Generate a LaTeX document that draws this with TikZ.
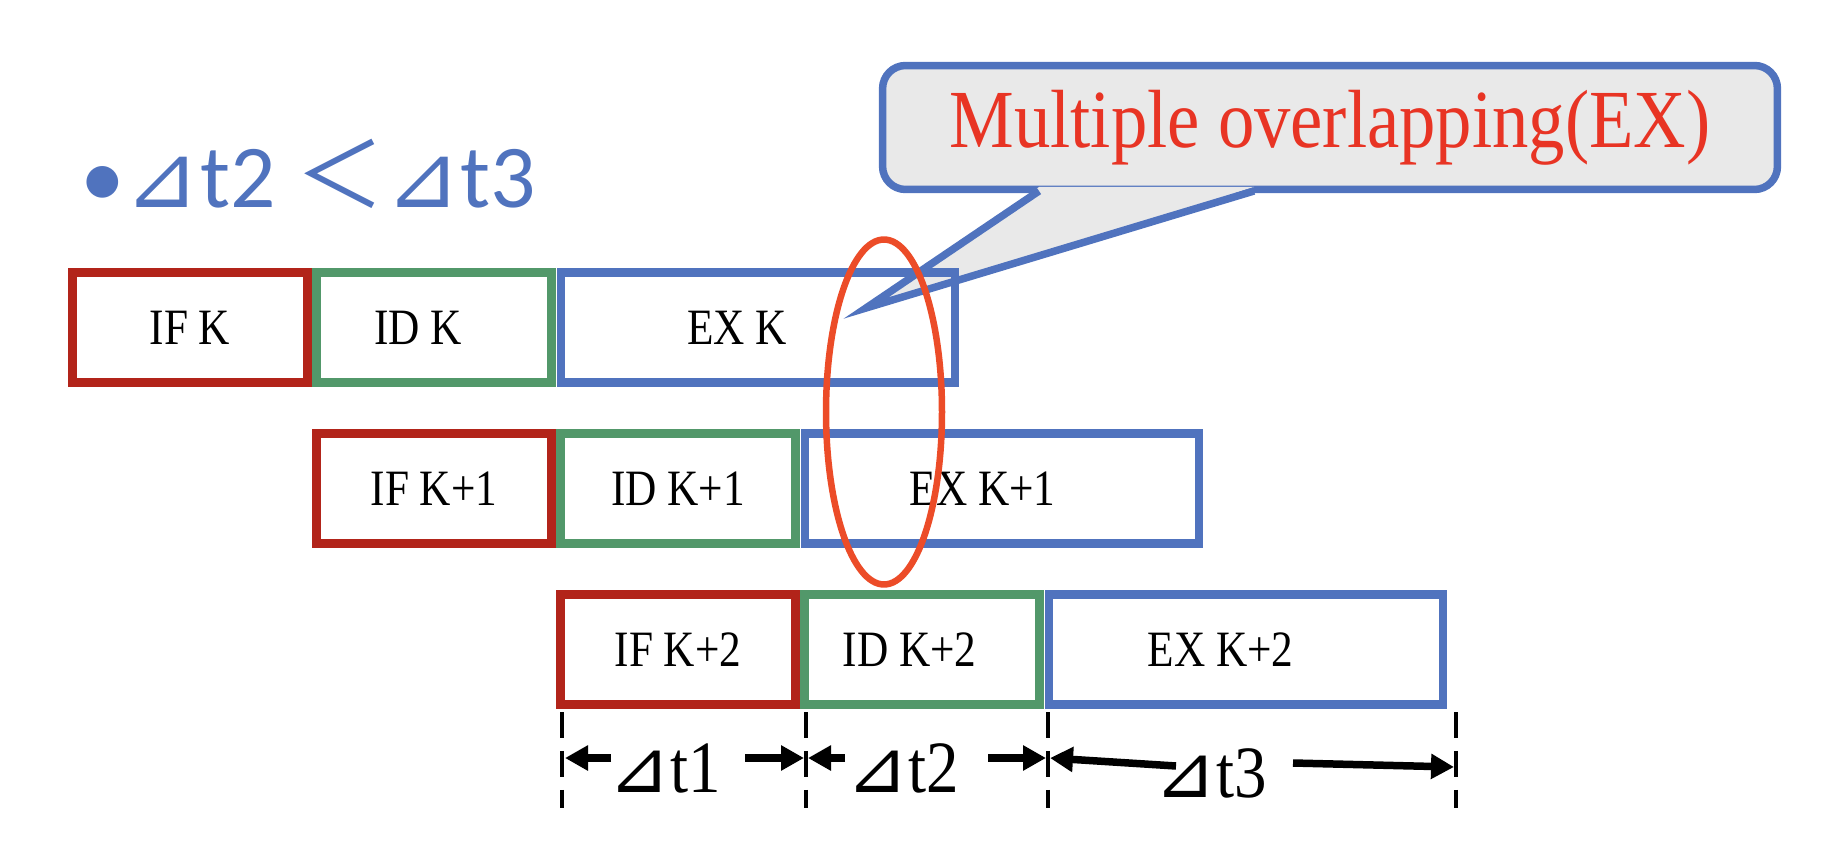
\documentclass[tikz,border=0pt]{standalone}
\usepackage{fontspec}
\setmainfont{Liberation Serif}
\newfontfamily\narrowfont[FakeStretch=0.88]{Liberation Serif}
\newfontfamily\labfont[FakeStretch=0.85]{Liberation Serif}
\newfontfamily\trifont{DejaVu Sans}
\newfontfamily\cjkfont{Noto Sans CJK SC}
\newfontfamily\calfont{Carlito}
\usetikzlibrary{shapes.geometric,arrows.meta}
\definecolor{cred}{RGB}{178,36,26}
\definecolor{cgreen}{RGB}{82,152,106}
\definecolor{cblue}{RGB}{80,115,190}
\definecolor{corange}{RGB}{236,76,40}
\definecolor{ctext}{RGB}{232,52,36}
\definecolor{cgray}{RGB}{233,233,233}
\begin{document}
\begin{tikzpicture}[x=0.02cm,y=-0.02cm,
  stage/.style={draw, line width=0.17cm, minimum height=2.2cm, inner sep=0pt, font=\labfont\fontsize{29}{31}\selectfont},
  ifbox/.style={stage, draw=cred, minimum width=4.71cm},
  idbox/.style={stage, draw=cgreen, minimum width=4.71cm},
  exbox/.style={stage, draw=cblue, minimum width=7.89cm},
  dline/.style={line width=0.07cm, dash pattern=on 0.52cm off 0.26cm},
  arr/.style={line width=0.15cm, -{Triangle[length=0.46cm,width=0.48cm]}},
  tlab/.style={font=\narrowfont\fontsize{42}{44}\selectfont, inner sep=0pt}
]
\useasboundingbox (0,0) rectangle (1834,854);

% title
\node[anchor=base west, inner sep=0pt, text=cblue, font=\calfont\fontsize{51}{55}\selectfont] (title) at (80,208)
  {•{\trifont ⊿}t2 {\cjkfont ＜}{\trifont ⊿}t3};

% callout
\node[draw=cblue, line width=0.15cm, fill=cgray, rounded corners=0.46cm,
      minimum width=17.9cm, minimum height=2.48cm, inner sep=0pt,
      text=ctext, font=\narrowfont\fontsize{47}{49}\selectfont] (callout) at (1330,127.5) {Multiple overlapping(EX)};
\coordinate (tl) at (1039,191);
\coordinate (tr) at (1254,191);
\coordinate (tip) at (866,308);
\fill[cgray] ([yshift=0.08cm]tl) -- (tip) -- ([yshift=0.08cm]tr) -- cycle;
\draw[cblue, line width=0.15cm, line join=miter] (tl) -- (tip) -- (tr);

% row 1
\node[ifbox] (ifk)  at (190,327.5) {IF K};
\node[idbox] (idk)  at (434,327.5) {ID K\hspace*{18pt}};
\node[exbox] (exk)  at (758,327.5) {EX K\hspace*{24pt}};
% row 2
\node[ifbox] (ifk1) at (434,488.5) {IF K+1};
\node[idbox] (idk1) at (678,488.5) {ID K+1};
\node[exbox] (exk1) at (1002,488.5) {EX K+1\hspace*{22pt}};
% row 3
\node[ifbox] (ifk2) at (678,649.5) {IF K+2};
\node[idbox] (idk2) at (922,649.5) {ID K+2\hspace*{14pt}};
\node[exbox] (exk2) at (1246,649.5) {EX K+2\hspace*{29pt}};

% overlap ellipse
\node[ellipse, draw=corange, line width=0.13cm, minimum width=2.32cm, minimum height=6.9cm, inner sep=0pt] (ovl) at (884,412) {};

% dashed time marks
\coordinate (d1t) at (562,712);  \coordinate (d1b) at (562,808);
\coordinate (d2t) at (806,712);  \coordinate (d2b) at (806,808);
\coordinate (d3t) at (1048,712); \coordinate (d3b) at (1048,808);
\coordinate (d4t) at (1456,712); \coordinate (d4b) at (1456,808);
\draw[dline] (d1t) -- (d1b);
\draw[dline] (d2t) -- (d2b);
\draw[dline] (d3t) -- (d3b);
\draw[dline] (d4t) -- (d4b);

% interval labels
\node[tlab] (t1) at (665,768) {{\trifont ⊿}t1};
\node[tlab] (t2) at (903,768) {{\trifont ⊿}t2};
\node[tlab] (t3) at (1211,773) {{\trifont ⊿}t3};

% arrows
\coordinate (a1s) at (611,758);  \coordinate (a1e) at (565,758);
\coordinate (a2s) at (745,758);  \coordinate (a2e) at (804,758);
\coordinate (a3s) at (845,758);  \coordinate (a3e) at (808,758);
\coordinate (a4s) at (988,758);  \coordinate (a4e) at (1046,758);
\coordinate (a5s) at (1176,766); \coordinate (a5e) at (1050,758);
\coordinate (a6s) at (1293,763); \coordinate (a6e) at (1454,767);
\draw[arr] (a1s) -- (a1e);
\draw[arr] (a2s) -- (a2e);
\draw[arr] (a3s) -- (a3e);
\draw[arr] (a4s) -- (a4e);
\draw[arr] (a5s) -- (a5e);
\draw[arr] (a6s) -- (a6e);
\end{tikzpicture}
\end{document}
